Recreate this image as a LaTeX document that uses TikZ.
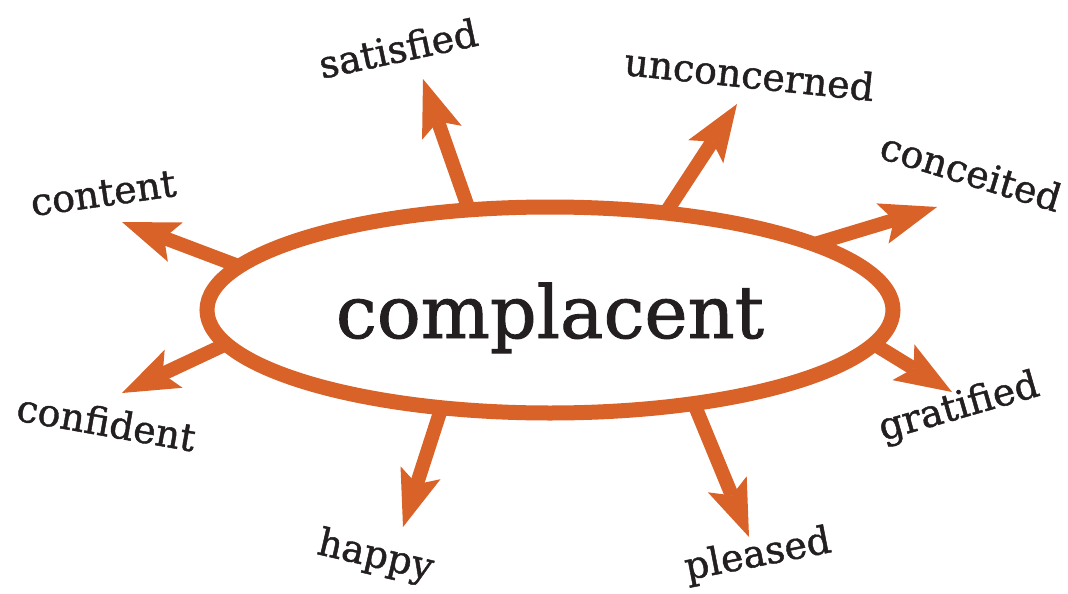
\documentclass[tikz,border=0pt]{standalone}
\usepackage{fontspec}
\setmainfont[FakeBold=1.2]{DejaVu Serif}
\usepackage{tikz}
\usetikzlibrary{backgrounds}
\usetikzlibrary{shapes.geometric}
\usetikzlibrary{arrows.meta}
\definecolor{cmporange}{RGB}{216,98,39}
\definecolor{cmpink}{RGB}{35,31,32}
\newcommand{\cmpelw}{15pt}
\newcommand{\cmparw}{14pt}
\newcommand{\cmpelx}{686pt}
\newcommand{\cmpely}{206pt}
\newcommand{\cmpwrd}{\fontsize{38pt}{40pt}\selectfont}
\newcommand{\cmphub}{\fontsize{73pt}{76pt}\selectfont}

\begin{document}
\begin{tikzpicture}[x=1pt,y=-1pt,anchor=base,text=cmpink,
    spoke/.style={draw=cmporange,line width=\cmparw,
      -{Stealth[length=57pt,width=42pt,inset=12pt,line width=0pt]}}]
    \useasboundingbox (0,0) rectangle (1068,594);

    \node (core) at (550,310) [ellipse,anchor=center,draw=cmporange,
      line width=\cmpelw,fill=white,minimum width=\cmpelx,
      minimum height=\cmpely,inner sep=0pt,outer sep=0pt,
      text height=73pt,text depth=17pt,font=\cmphub] {complacent};

    \node (lblsatisfied) at (401,62) [rotate=12,font=\cmpwrd] {satisfied};
    \node (lblunconcerned) at (748,88) [rotate=-6,font=\cmpwrd] {unconcerned};
    \node (lblconceited) at (967,185) [rotate=-17,font=\cmpwrd] {conceited};
    \node (lblgratified) at (962,418) [rotate=16,font=\cmpwrd] {gratified};
    \node (lblpleased) at (760,566) [rotate=11,font=\cmpwrd] {pleased};
    \node (lblhappy) at (373,567) [rotate=-13,font=\cmpwrd] {happy};
    \node (lblconfident) at (104,436) [rotate=-10,font=\cmpwrd] {confident};
    \node (lblcontent) at (105,206) [rotate=8,font=\cmpwrd] {content};

    \coordinate (tipsatisfied) at (423,79);
    \coordinate (tipunconcerned) at (737,104);
    \coordinate (tipconceited) at (937,207);
    \coordinate (tipgratified) at (952,392);
    \coordinate (tippleased) at (749,537);
    \coordinate (tiphappy) at (403,527);
    \coordinate (tipconfident) at (122,393);
    \coordinate (tipcontent) at (122,222);

    \begin{scope}[on background layer]
      \draw[spoke] (core.129) -- (tipsatisfied);
      \draw[spoke] (core.40) -- (tipunconcerned);
      \draw[spoke] (core.14) -- (tipconceited);
      \draw[spoke] (core.354) -- (tipgratified);
      \draw[spoke] (core.327) -- (tippleased);
      \draw[spoke] (core.222) -- (tiphappy);
      \draw[spoke] (core.186) -- (tipconfident);
      \draw[spoke] (core.172) -- (tipcontent);
    \end{scope}
  \end{tikzpicture}
\end{document}
